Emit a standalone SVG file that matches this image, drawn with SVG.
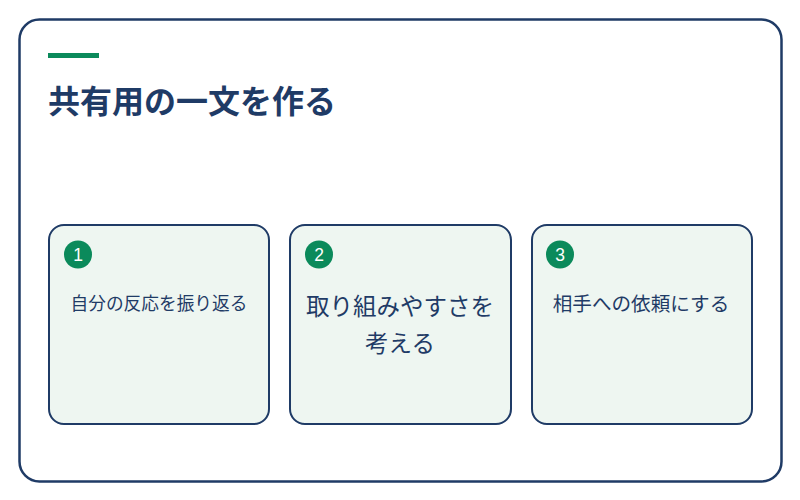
<svg xmlns="http://www.w3.org/2000/svg" width="800" height="500" viewBox="0 0 800 500">
<style>
.frame{fill:#ffffff;stroke:#1f3b66;stroke-width:2.5}
.card{fill:#eef6f1;stroke:#1f3b66;stroke-width:2}
.badge{fill:#0b8a5b}
.num{fill:#ffffff;font-family:"Liberation Sans","Noto Sans",sans-serif;font-size:17.5px;text-anchor:middle}
.title{fill:#1f3b66;font-family:"Noto Sans CJK JP","Noto Sans",sans-serif;font-size:32px;font-weight:bold}
.lbl{fill:#1f3b66;font-family:"Noto Sans CJK JP","Noto Sans",sans-serif;text-anchor:middle}
</style>
<rect width="800" height="500" fill="#ffffff"/>
<rect class="frame" x="19.5" y="19.5" width="762" height="462" rx="20"/>
<rect x="48" y="53" width="51" height="5" fill="#0b8a5b"/>
<text class="title" x="48" y="113">共有用の一文を作る</text>
<g id="connectors"></g>
<g id="node1">
<rect class="card" x="49" y="225" width="220" height="199" rx="15"/>
<circle class="badge" cx="78" cy="254.5" r="14"/>
<text class="num" x="78" y="260.5">1</text>
<text class="lbl" x="159" y="310" font-size="17.7">自分の反応を振り返る</text>
</g>
<g id="node2">
<rect class="card" x="290" y="225" width="221" height="199" rx="15"/>
<circle class="badge" cx="319" cy="254.5" r="14"/>
<text class="num" x="319" y="260.5">2</text>
<text class="lbl" x="400" y="315" font-size="23.5">取り組みやすさを</text>
<text class="lbl" x="400" y="352" font-size="23.5">考える</text>
</g>
<g id="node3">
<rect class="card" x="532" y="225" width="220" height="199" rx="15"/>
<circle class="badge" cx="560" cy="254.5" r="14"/>
<text class="num" x="560" y="260.5">3</text>
<text class="lbl" x="641" y="311" font-size="19.6">相手への依頼にする</text>
</g>
</svg>
